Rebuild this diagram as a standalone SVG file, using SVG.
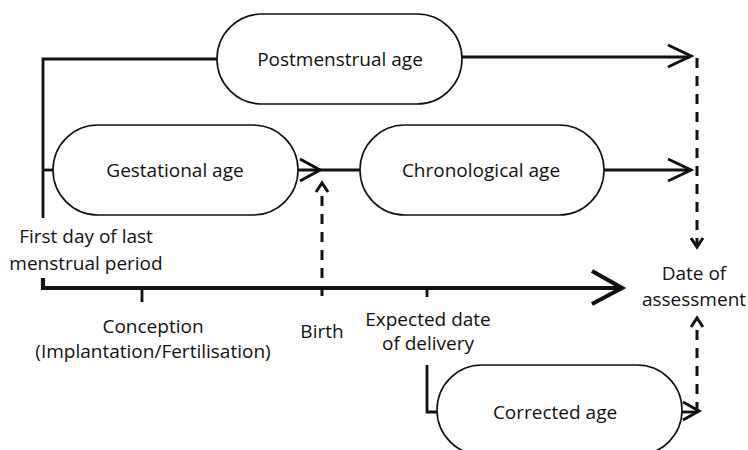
<svg xmlns="http://www.w3.org/2000/svg" width="748" height="450" viewBox="0 0 748 450">
<style>
.pill{fill:#fff;stroke:#111;stroke-width:1.6}
.t{font-family:"Open Sans","Noto Sans",sans-serif;font-size:19px;fill:#111;text-anchor:middle}
.ln{fill:none;stroke:#111;stroke-width:2.8}
.thick{fill:none;stroke:#111;stroke-width:4.2}
.ah{fill:none;stroke:#111;stroke-width:3;stroke-linejoin:miter}
.dash{fill:none;stroke:#111;stroke-width:3;stroke-dasharray:10 8}
</style>
<rect width="748" height="450" fill="#fff"/>
<g id="connectors">
<path class="ln" d="M217,59 H43 V218"/>
<path class="ln" d="M43,170 H53"/>
<path class="thick" d="M43,278 V288 H620"/>
<path class="thick" d="M592,271 L622,288 L592,304"/>
<path class="ln" d="M142,288 V302"/>
<path class="ln" d="M427,288 V297"/>
<path class="ln" d="M462,57 H690"/>
<path class="ah" d="M668,45 L691,56 L668,67"/>
<path class="ln" d="M298,170 H360"/>
<path class="ah" d="M300,159 L320,170 L300,181"/>
<path class="ln" d="M604,170 H690"/>
<path class="ah" d="M668,159 L691,170 L668,181"/>
<path class="dash" d="M322,296 V188"/>
<path class="ah" d="M316,192 L322,183 L328,192"/>
<path class="dash" d="M697,58 V244"/>
<path class="ah" d="M691,238 L697,247 L703,238"/>
<path class="dash" d="M697,412 V322"/>
<path class="ah" d="M691,327 L697,318 L703,327"/>
<path class="ln" d="M427,365 V412 H437"/>
<path class="ln" d="M682,412 H697"/>
<path class="ah" d="M683,402 L699,411 L683,420"/>
</g>
<g id="postmenstrual"><rect class="pill" x="217" y="14" width="245" height="90" rx="45"/><text class="t" x="340" y="66">Postmenstrual age</text></g>
<g id="gestational"><rect class="pill" x="53" y="125" width="245" height="90" rx="45"/><text class="t" x="175" y="177">Gestational age</text></g>
<g id="chronological"><rect class="pill" x="360" y="125" width="244" height="90" rx="45"/><text class="t" x="481" y="177">Chronological age</text></g>
<g id="corrected"><rect class="pill" x="437" y="365" width="245" height="90" rx="45"/><text class="t" x="555" y="419">Corrected age</text></g>
<g id="lmp"><text class="t" x="86" y="243">First day of last</text><text class="t" x="86" y="270">menstrual period</text></g>
<g id="conception"><text class="t" x="153" y="333">Conception</text><text class="t" x="153" y="358">(Implantation/Fertilisation)</text></g>
<g id="birth"><text class="t" x="322" y="338">Birth</text></g>
<g id="edd"><text class="t" x="428" y="326">Expected date</text><text class="t" x="428" y="350">of delivery</text></g>
<g id="assessment"><text class="t" x="694" y="280">Date of</text><text class="t" x="694" y="306">assessment</text></g>
</svg>
